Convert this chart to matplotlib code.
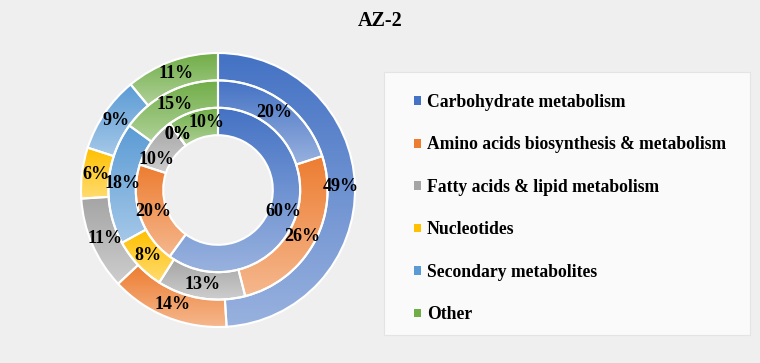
import matplotlib
matplotlib.use('Agg')
import matplotlib.pyplot as plt
import numpy as np
from matplotlib.colors import to_rgb
from matplotlib.patches import Rectangle

categories = ['Carbohydrate metabolism', 'Amino acids biosynthesis & metabolism',
              'Fatty acids & lipid metabolism', 'Nucleotides',
              'Secondary metabolites', 'Other']
outer_vals = [49, 14, 11, 6, 9, 11]
middle_vals = [20, 26, 13, 8, 18, 15]
inner_vals = [60, 20, 10, 0, 0, 10]
colors = ['#4472C4', '#ED7D31', '#A5A5A5', '#FFC000', '#5B9BD5', '#70AD47']

plt.rcParams['font.family'] = ['Liberation Serif', 'DejaVu Serif']

W, H = 760, 363
fig = plt.figure(figsize=(W / 100, H / 100), dpi=100)
fig.patch.set_facecolor('#efefef')
# legend frame
fig.patches.append(Rectangle((384 / W, 1 - 335 / H), 366 / W, 263 / H, transform=fig.transFigure,
                             facecolor='#fafafa', edgecolor='#e4e4e4', linewidth=0.8, zorder=1))

# pie axes: centre at (218, 190) px, outer radius 137 px
half = 150
ax = fig.add_axes([(218 - half) / W, (H - 190 - half) / H, 2 * half / W, 2 * half / H])
ax.set_facecolor('none')
lim = half / 137


def shade(wedge, color):
    c0 = np.array(to_rgb(color))
    c1 = c0 + (1 - c0) * 0.45
    t = np.linspace(0, 1, 128)[:, None, None]
    img = c0 * (1 - t) + c1 * t
    bb = wedge.get_path().get_extents()
    im = ax.imshow(img, extent=[bb.x0, bb.x1, bb.y0, bb.y1], origin='upper',
                   aspect='auto', interpolation='bilinear', zorder=1)
    im.set_clip_path(wedge)


rings = [(outer_vals, 1.0), (middle_vals, 0.8), (inner_vals, 0.6)]
nudge = {(2, 2): 10, (2, 5): -8}
for ri, (vals, r) in enumerate(rings):
    wedges, _ = ax.pie(vals, radius=r, startangle=90, counterclock=False,
                       colors=['none'] * len(vals),
                       wedgeprops=dict(width=0.2, edgecolor='white', linewidth=1.5))
    for i, (w, v) in enumerate(zip(wedges, vals)):
        w.set_zorder(2)
        if v > 0:
            shade(w, colors[i])
        ang = np.deg2rad((w.theta1 + w.theta2) / 2 + nudge.get((ri, i), 0))
        rr = r - 0.1
        ax.text(rr * np.cos(ang), rr * np.sin(ang), f'{v}%', ha='center', va='center',
                fontsize=13, fontweight='bold', color='black', zorder=3)

ax.set_xlim(-lim, lim)
ax.set_ylim(-lim, lim)
ax.set_aspect('equal')
ax.axis('off')

handles = [Rectangle((0, 0), 1, 1, facecolor=c) for c in colors]
leg = fig.legend(handles, categories, loc='upper left',
                 bbox_to_anchor=(398 / W, 1 - 78 / H), frameon=False,
                 prop=dict(size=12.7, weight='bold'), handlelength=0.4, handleheight=0.4,
                 handletextpad=0.35, labelspacing=1.445)

fig.text(380 / W, 1 - 21 / H, 'AZ-2', ha='center', va='center', fontsize=14.5,
         fontweight='bold')

fig.savefig('out.png', dpi=100, facecolor=fig.get_facecolor())
